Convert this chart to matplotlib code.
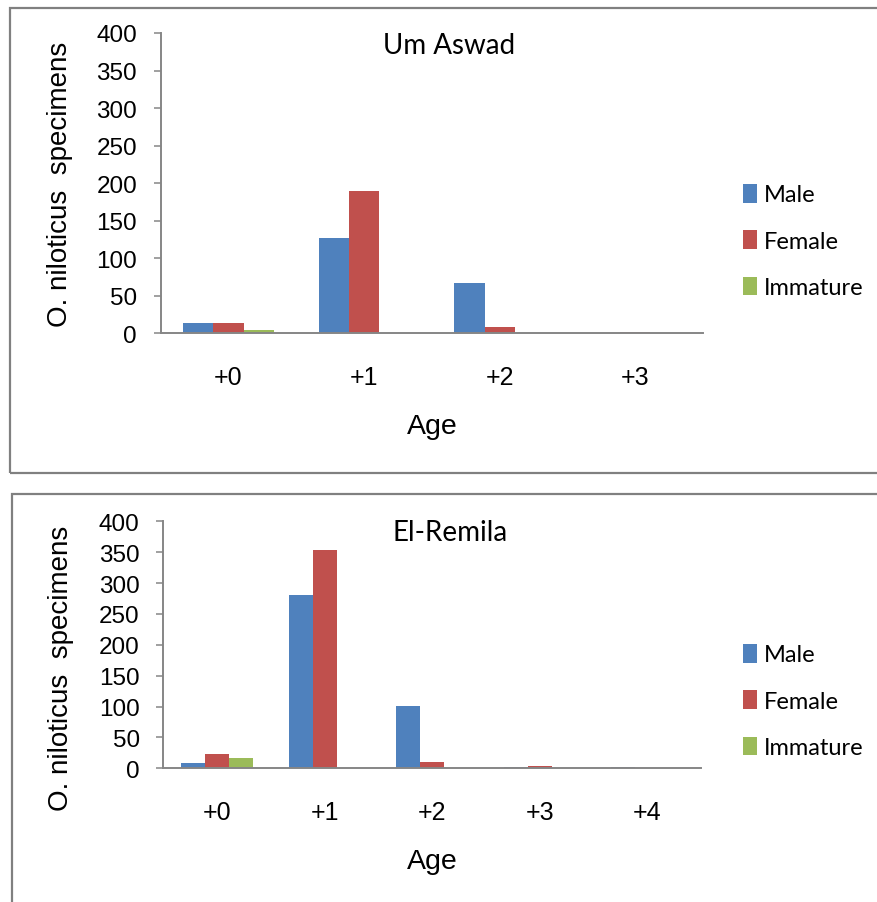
import numpy as np
import matplotlib
matplotlib.use("Agg")            # headless: write the PNG directly
import matplotlib.pyplot as plt
from matplotlib.patches import Rectangle

W, H = 877, 903                  # canvas size in pixels

# counts of O. niloticus by age class and sex, per site
ages_aswad     = ["+0", "+1", "+2", "+3"]
male_aswad     = [14, 127, 67, 0]
female_aswad   = [14, 190, 9, 2]
immature_aswad = [4, 0, 0, 0]

ages_remila     = ["+0", "+1", "+2", "+3", "+4"]
male_remila     = [9, 281, 101, 2, 2]
female_remila   = [23, 354, 11, 3, 0]
immature_remila = [17, 0, 0, 0, 0]

series_names = ["Male", "Female", "Immature"]
bar_colors   = ["#4F81BD", "#C0504D", "#9BBB59"]
axis_grey    = "#868686"
frame_grey   = "#808080"

tick_font  = "Liberation Sans"
label_font = "Liberation Sans"
title_font = "Lato"


def fx(x):
    return x / W


def fy(y):
    return 1 - y / H


def px_rect(left, top, right, bottom):
    return [fx(left), fy(bottom), (right - left) / W, (bottom - top) / H]


def draw_panel(fig, rect, ages, values, title, title_xy, ylab_xy, xlab_xy, legend_xy):
    ax = fig.add_axes(rect)
    x = np.arange(len(ages))
    w = 1 / 4.5                  # 3 bars + 150% gap per category
    for k, (name, vals) in enumerate(zip(series_names, values)):
        ax.bar(x + (k - 1) * w, vals, width=w, color=bar_colors[k], label=name, linewidth=0)

    ax.set_xlim(-0.5, len(ages) - 0.5)
    ax.set_ylim(0, 400)
    ax.set_yticks(np.arange(0, 401, 50))
    ax.set_xticks(x)
    ax.set_xticklabels(ages, fontfamily=tick_font)
    for lab in ax.get_yticklabels():
        lab.set_fontfamily(tick_font)

    ax.spines["top"].set_visible(False)
    ax.spines["right"].set_visible(False)
    for side in ("left", "bottom"):
        ax.spines[side].set_color(axis_grey)
        ax.spines[side].set_linewidth(1.4)
    ax.tick_params(axis="y", length=5, width=1.1, color=axis_grey, pad=12, labelsize=17.5)
    ax.tick_params(axis="x", length=0, pad=23, labelsize=18)
    ax.patch.set_alpha(0)

    fig.text(fx(title_xy[0]), fy(title_xy[1]), title, fontfamily=title_font, fontsize=20,
             ha="center", va="center")
    fig.text(fx(ylab_xy[0]), fy(ylab_xy[1]), "O. niloticus  specimens", fontfamily=label_font,
             fontsize=20, rotation=90, ha="center", va="center")
    fig.text(fx(xlab_xy[0]), fy(xlab_xy[1]), "Age", fontfamily=label_font, fontsize=20.5,
             ha="center", va="center")

    ax.legend(loc="center left", bbox_to_anchor=(fx(legend_xy[0]), fy(legend_xy[1])),
              bbox_transform=fig.transFigure, frameon=False,
              prop={"family": title_font, "size": 17},
              handlelength=0.6, handleheight=0.85, handletextpad=0.3,
              labelspacing=1.05, borderpad=0, borderaxespad=0)
    return ax


fig = plt.figure(figsize=(W / 100, H / 100), dpi=100)

# panel frames (right side of the top one and bottom of the lower one run off the page)
fig.add_artist(Rectangle((fx(9.5), fy(474)), 2, (474 - 9) / H, transform=fig.transFigure,
                         fill=False, edgecolor=frame_grey, linewidth=1.6))
fig.add_artist(Rectangle((fx(12), fy(1000)), 2, (1000 - 495) / H, transform=fig.transFigure,
                         fill=False, edgecolor=frame_grey, linewidth=1.6))

draw_panel(fig, px_rect(160.7, 34, 703, 334.3), ages_aswad,
           [male_aswad, female_aswad, immature_aswad], "Um Aswad",
           title_xy=(449, 46), ylab_xy=(60, 184), xlab_xy=(432, 427), legend_xy=(742.7, 242))

draw_panel(fig, px_rect(163.3, 522.3, 701, 769.3), ages_remila,
           [male_remila, female_remila, immature_remila], "El-Remila",
           title_xy=(450, 533), ylab_xy=(61, 668), xlab_xy=(432, 862), legend_xy=(742.7, 702))

fig.savefig("out.png", dpi=100)
